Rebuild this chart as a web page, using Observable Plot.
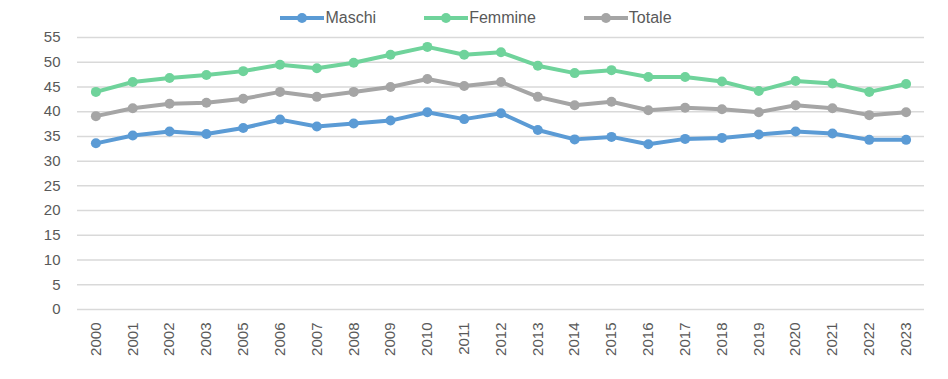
<!DOCTYPE html>
<html>
<head>
<meta charset="utf-8">
<script src="https://cdn.jsdelivr.net/npm/d3@7"></script>
<script src="https://cdn.jsdelivr.net/npm/@observablehq/plot@0.6"></script>
<style>
  html, body { margin: 0; padding: 0; background: #fff; }
  #wrap { width: 948px; height: 379px; overflow: hidden; font-family: "Liberation Sans", Arial, sans-serif; }
  #legend { height: 26px; display: flex; justify-content: center; align-items: center; padding-top: 9px; box-sizing: border-box; padding-left: 4px; }
  .item { display: flex; align-items: center; margin: 0 24px; font-size: 16px; color: #595959; }
  .item svg { margin-right: 1px; }
  #chart svg { display: block; }
</style>
</head>
<body>
<div id="wrap">
  <div id="legend"></div>
  <div id="chart"></div>
</div>
<script>
const years = ["2000","2001","2002","2003","2005","2006","2007","2008","2009","2010","2011","2012","2013","2014","2015","2016","2017","2018","2019","2020","2021","2022","2023"];
const maschi  = [33.6,35.2,36.0,35.5,36.7,38.4,37.0,37.6,38.2,39.9,38.5,39.7,36.3,34.4,34.9,33.4,34.5,34.7,35.4,36.0,35.6,34.3,34.3];
const femmine = [44.0,46.0,46.8,47.4,48.2,49.5,48.8,49.9,51.5,53.1,51.5,52.0,49.3,47.8,48.4,47.0,47.0,46.1,44.2,46.2,45.7,44.0,45.6];
const totale  = [39.1,40.7,41.6,41.8,42.6,44.0,43.0,44.0,45.0,46.6,45.2,46.0,43.0,41.3,42.0,40.3,40.8,40.5,39.9,41.3,40.7,39.3,39.9];
const seriesNames = ["Maschi","Femmine","Totale"];
const seriesColors = ["#5B9BD5","#6FD39B","#A5A5A5"];
const yTicks = [0,5,10,15,20,25,30,35,40,45,50,55];

const seriesValues = [maschi, femmine, totale];
const data = [];
seriesNames.forEach((s, i) => years.forEach((y, j) => data.push({serie: s, anno: y, valore: seriesValues[i][j]})));

// legend
const legend = document.getElementById("legend");
seriesNames.forEach((s, i) => {
  const it = document.createElement("div");
  it.className = "item";
  it.innerHTML = `<svg width="44" height="12"><line x1="0" x2="44" y1="6" y2="6" stroke="${seriesColors[i]}" stroke-width="4"/><circle cx="22" cy="6" r="5" fill="${seriesColors[i]}"/></svg><span>${s}</span>`;
  legend.appendChild(it);
});

const chart = Plot.plot({
  width: 948,
  height: 353,
  marginTop: 11,
  marginBottom: 70,
  marginLeft: 77,
  marginRight: 24,
  style: {fontFamily: "'Liberation Sans', Arial, sans-serif", fontSize: "15px", color: "#595959", background: "#fff"},
  x: {type: "point", domain: years, padding: 0.5, round: false, label: null},
  y: {domain: [0, 55], label: null},
  color: {domain: seriesNames, range: seriesColors},
  marks: [
    Plot.ruleY(yTicks, {stroke: "#D9D9D9", strokeWidth: 1.5}),
    Plot.axisY({ticks: yTicks, tickSize: 0, tickPadding: 17, label: null, fill: "#595959"}),
    Plot.axisX({tickSize: 0, tickRotate: -90, tickPadding: 13, label: null, fill: "#595959"}),
    Plot.line(data, {x: "anno", y: "valore", z: "serie", stroke: "serie", strokeWidth: 4, strokeLinejoin: "round"}),
    Plot.dot(data, {x: "anno", y: "valore", fill: "serie", r: 5})
  ]
});
document.getElementById("chart").appendChild(chart);
</script>
</body>
</html>
